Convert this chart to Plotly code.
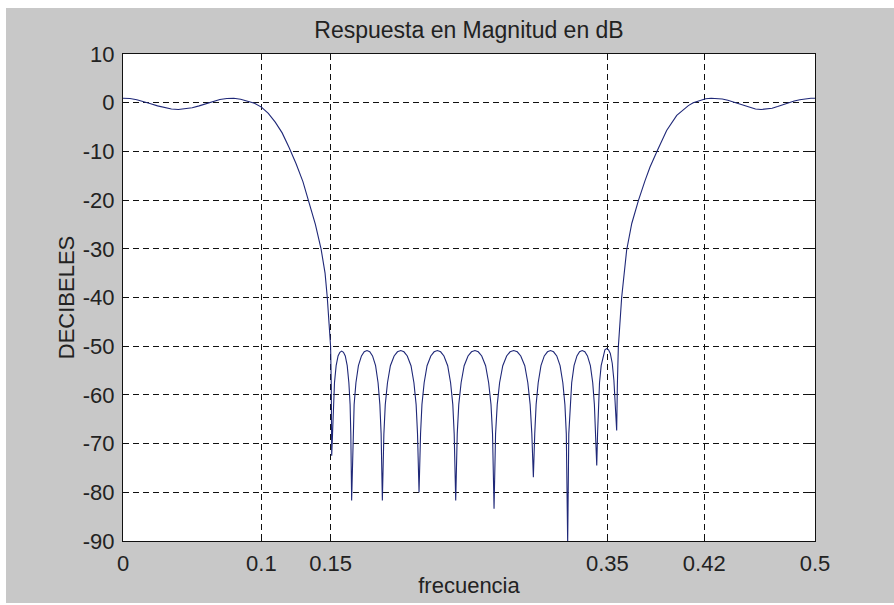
import plotly.graph_objects as go

# Magnitude response (dB) of the band-stop filter, read point by point.
# Left passband and falling transition edge
left_f = [0.000, 0.005, 0.010, 0.015, 0.020, 0.025, 0.030, 0.035, 0.040, 0.045,
          0.050, 0.055, 0.060, 0.065, 0.070, 0.075, 0.080, 0.085, 0.090, 0.095,
          0.100, 0.105, 0.110, 0.115, 0.120, 0.125, 0.130, 0.134, 0.139, 0.1431,
          0.146, 0.1476, 0.149, 0.150, 0.1505]
left_db = [0.9, 0.85, 0.6, 0.25, -0.2, -0.65, -1.05, -1.3, -1.4, -1.3,
           -1.05, -0.65, -0.2, 0.3, 0.65, 0.85, 0.9, 0.7, 0.3, -0.1,
           -0.9, -2.2, -4.0, -6.2, -9.2, -12.5, -16.2, -20.0, -25.0, -30.0,
           -35.0, -40.0, -45.0, -50.0, -58.0]

# Stopband: one row per lobe, starting at its left null
stop_f = [
    0.1508, 0.1514, 0.1520, 0.1528, 0.1540, 0.1554, 0.1567, 0.1580, 0.1593, 0.1606, 0.1620, 0.1632, 0.1641, 0.1646,
    0.1652, 0.1661, 0.1670, 0.1683, 0.1701, 0.1723, 0.1743, 0.1763, 0.1783, 0.1803, 0.1825, 0.1843, 0.1856, 0.1865,
    0.1874, 0.1885, 0.1895, 0.1911, 0.1932, 0.1959, 0.1983, 0.2007, 0.2030, 0.2054, 0.2081, 0.2102, 0.2118, 0.2128,
    0.2139, 0.2150, 0.2160, 0.2176, 0.2197, 0.2224, 0.2248, 0.2272, 0.2295, 0.2319, 0.2346, 0.2367, 0.2383, 0.2393,
    0.2404, 0.2415, 0.2426, 0.2443, 0.2465, 0.2493, 0.2518, 0.2543, 0.2567, 0.2592, 0.2620, 0.2642, 0.2659, 0.2670,
    0.2681, 0.2692, 0.2704, 0.2721, 0.2744, 0.2772, 0.2797, 0.2823, 0.2849, 0.2874, 0.2903, 0.2925, 0.2942, 0.2954,
    0.2965, 0.2975, 0.2985, 0.3000, 0.3020, 0.3044, 0.3067, 0.3089, 0.3111, 0.3134, 0.3158, 0.3178, 0.3193, 0.3203,
    0.3213, 0.3221, 0.3230, 0.3242, 0.3259, 0.3280, 0.3299, 0.3318, 0.3337, 0.3356, 0.3377, 0.3394, 0.3406, 0.3415,
    0.3423, 0.3429, 0.3435, 0.3443, 0.3455, 0.3469, 0.3482, 0.3495, 0.3508, 0.3521, 0.3535, 0.3547, 0.3556, 0.3561,
    0.3567,
]
stop_db = [
    -72.5, -68, -62, -57.5, -54, -52, -51.25, -51.0, -51.25, -52, -54, -57.5, -62, -68,
    -81.7, -68, -62, -57.5, -54, -52, -51.15, -50.9, -51.15, -52, -54, -57.5, -62, -68,
    -81.7, -68, -62, -57.5, -54, -52, -51.15, -50.9, -51.15, -52, -54, -57.5, -62, -68,
    -80.0, -68, -62, -57.5, -54, -52, -51.15, -50.9, -51.15, -52, -54, -57.5, -62, -68,
    -81.7, -68, -62, -57.5, -54, -52, -51.15, -50.9, -51.15, -52, -54, -57.5, -62, -68,
    -83.4, -68, -62, -57.5, -54, -52, -51.15, -50.9, -51.15, -52, -54, -57.5, -62, -68,
    -76.9, -68, -62, -57.5, -54, -52, -51.15, -50.9, -51.15, -52, -54, -57.5, -62, -68,
    -90.5, -68, -62, -57.5, -54, -52, -51.15, -50.9, -51.15, -52, -54, -57.5, -62, -68,
    -74.5, -68, -62, -57.5, -54, -52, -50.75, -50.5, -50.75, -51.5, -53.5, -57, -61, -64,
    -67.3,
]

# Rising transition edge and right passband
right_f = [0.3572, 0.3579, 0.3603, 0.3639, 0.3676, 0.3725, 0.3772, 0.3808, 0.3861, 0.3928,
           0.4001, 0.4049, 0.4085, 0.4120, 0.4169, 0.4210, 0.4250, 0.4290, 0.4330, 0.4370,
           0.4410, 0.4450, 0.4490, 0.4530, 0.4570, 0.4610, 0.4650, 0.4690, 0.4730, 0.4770,
           0.4810, 0.4850, 0.4890, 0.4930, 0.4970, 0.5000]
right_db = [-58.0, -50.2, -40.0, -30.3, -24.8, -20.0, -16.0, -13.2, -9.8, -5.7,
            -2.6, -1.5, -0.6, 0.0, 0.5, 0.8, 0.9, 0.9, 0.75, 0.5,
            0.15, -0.2, -0.6, -1.0, -1.3, -1.4, -1.35, -1.15, -0.8, -0.4,
            0.0, 0.35, 0.6, 0.8, 0.9, 0.9]

x_ticks = [0, 0.1, 0.15, 0.35, 0.42, 0.5]
x_tick_text = ["0", "0.1", "0.15", "0.35", "0.42", "0.5"]
y_ticks = [10, 0, -10, -20, -30, -40, -50, -60, -70, -80, -90]
y_tick_text = ["10", "0", "-10", "-20", "-30", "-40", "-50", "-60", "-70", "-80", "-90"]

freq = left_f + stop_f + right_f
mag_db = left_db + stop_db + right_db

W, H = 894, 605
L, R, T, B = 123, 79, 54, 64
pw, ph = W - L - R, H - T - B


def px_x(px):
    return (px - L) / pw


def px_y(py):
    return (H - B - py) / ph


TXT = "#222222"
FS = 22

fig = go.Figure(
    go.Scatter(x=freq, y=mag_db, mode="lines",
               line=dict(color="#1f2878", width=1.1), hoverinfo="x+y")
)

axis_common = dict(
    showline=True, linecolor="#111111", linewidth=1, mirror="ticks",
    ticks="inside", ticklen=6, tickcolor="#111111", tickwidth=1,
    showgrid=True, gridcolor="#111111", gridwidth=1, griddash="6px,4px",
    zeroline=False, tickfont=dict(size=FS, color=TXT),
)

fig.update_layout(
    width=W, height=H,
    margin=dict(l=L, r=R, t=T, b=B),
    paper_bgcolor="#c8c8c8", plot_bgcolor="white",
    showlegend=False,
    font=dict(family="Liberation Sans, Arial, sans-serif", size=FS, color=TXT),
    title=dict(text="Respuesta en Magnitud en dB", xref="paper", x=0.5, xanchor="center",
               yref="container", y=1 - 30 / H, yanchor="middle",
               font=dict(size=23, color=TXT)),
    xaxis=dict(range=[0, 0.5], tickvals=x_ticks, ticktext=x_tick_text,
               ticklabelstandoff=3,
               title=dict(text="frecuencia", standoff=2, font=dict(size=FS, color=TXT)),
               **axis_common),
    yaxis=dict(range=[-90, 10], tickvals=y_ticks, ticktext=y_tick_text,
               ticklabelstandoff=3,
               title=dict(text="DECIBELES", standoff=2, font=dict(size=FS, color=TXT)),
               **axis_common),
    shapes=[
        # light frame strips along the window edge
        dict(type="rect", xref="paper", yref="paper", layer="above", line_width=0,
             fillcolor="white", x0=px_x(0), x1=px_x(W), y0=px_y(8), y1=px_y(0)),
        dict(type="rect", xref="paper", yref="paper", layer="above", line_width=0,
             fillcolor="white", x0=px_x(0), x1=px_x(6), y0=px_y(H), y1=px_y(0)),
        dict(type="rect", xref="paper", yref="paper", layer="above", line_width=0,
             fillcolor="white", x0=px_x(0), x1=px_x(W), y0=px_y(H), y1=px_y(603)),
    ],
)

fig.write_html("out.html")
